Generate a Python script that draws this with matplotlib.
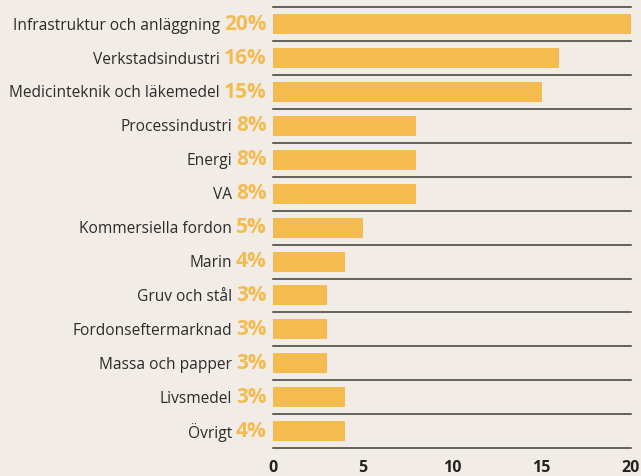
import matplotlib.pyplot as plt

categories = ["Infrastruktur och anläggning", "Verkstadsindustri", "Medicinteknik och läkemedel",
              "Processindustri", "Energi", "VA", "Kommersiella fordon", "Marin",
              "Gruv och stål", "Fordonseftermarknad", "Massa och papper", "Livsmedel", "Övrigt"]
values = [20, 16, 15, 8, 8, 8, 5, 4, 3, 3, 3, 4, 4]
pct_labels = ["20%", "16%", "15%", "8%", "8%", "8%", "5%", "4%", "3%", "3%", "3%", "3%", "4%"]
xticks = [0, 5, 10, 15, 20]

bg = "#f1ede6"
bar_color = "#f4bb50"
text_color = "#2b2b2b"

plt.rcParams['font.family'] = ['Open Sans', 'DejaVu Sans']

fig = plt.figure(figsize=(6.41, 4.76), dpi=100, facecolor=bg)
ax = fig.add_axes([273/641, 1 - 448/476, (631 - 273)/641, (448 - 7.3)/476])
ax.set_facecolor(bg)

pos = list(range(len(categories)))
ax.barh(pos, values, height=0.59, color=bar_color, zorder=2)
ax.set_xlim(0, 20)
ax.set_ylim(len(categories) - 0.5, -0.5)

for i in range(len(categories) + 1):
    ax.axhline(i - 0.5, color="#3c3c3c", lw=1.1, zorder=3, clip_on=False)

for i in pos:
    pt = ax.annotate(pct_labels[i], xy=(0, i), xycoords=("axes fraction", "data"),
                     xytext=(-4.5, 0), textcoords="offset points",
                     ha="right", va="center", fontsize=15, fontweight="bold",
                     color=bar_color)
    ax.annotate(categories[i], xy=(0, 0.5), xycoords=pt,
                xytext=(-3, -1), textcoords="offset points",
                ha="right", va="center", fontsize=11.2, color=text_color)

ax.set_yticks([])
ax.set_xticks(xticks)
ax.set_xticklabels([str(t) for t in xticks], fontweight="bold", fontsize=11.5, color="#222222")
ax.tick_params(axis="x", length=0, pad=9)
for s in ax.spines.values():
    s.set_visible(False)

fig.savefig("out.png", dpi=100, facecolor=bg)
